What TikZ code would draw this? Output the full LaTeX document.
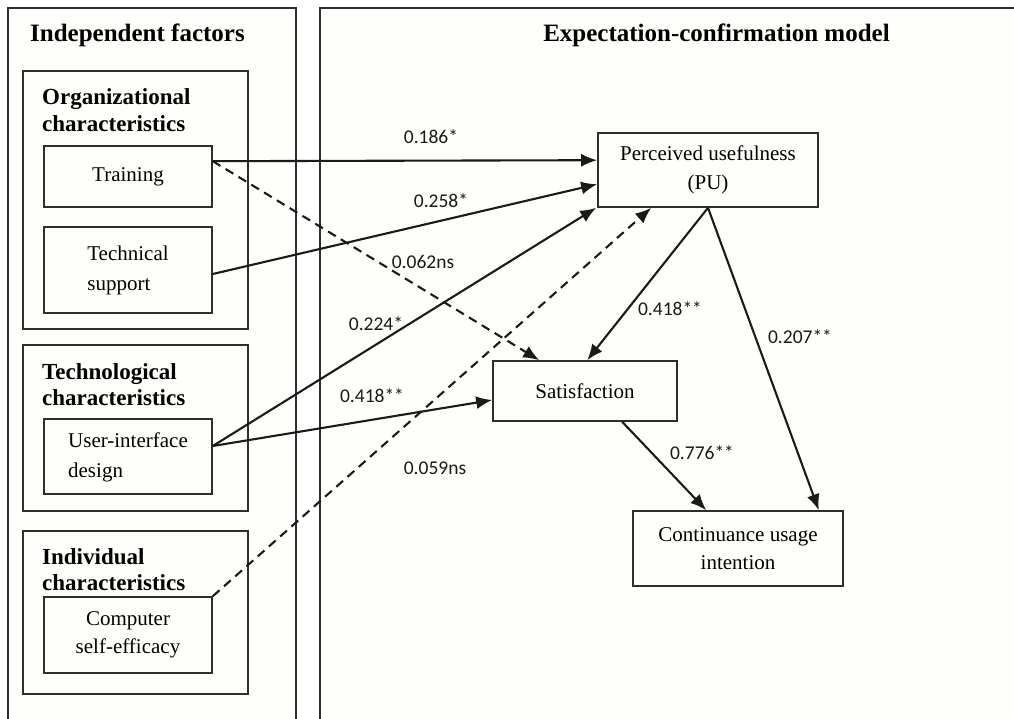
\documentclass[tikz,border=0pt]{standalone}
\usepackage{fontspec}
\setmainfont{Liberation Serif}
\newfontfamily\labfont{Carlito}
\usetikzlibrary{arrows.meta,calc}
\definecolor{ink}{HTML}{1A1A1A}
\definecolor{boxline}{HTML}{2E2E2E}
\definecolor{paper}{HTML}{FEFEFA}
\tikzset{
  panel/.style={draw=boxline, line width=1.6pt},
  group/.style={draw=boxline, line width=1.6pt, inner sep=0pt, anchor=center},
  bx/.style={draw=boxline, line width=1.6pt, inner sep=0pt, anchor=center, align=center,
     font=\fontsize{21}{28.5}\selectfont},
  head/.style={font=\bfseries\fontsize{25}{30}\selectfont, anchor=base, inner sep=0pt},
  subhead/.style={font=\bfseries\fontsize{23}{26.5}\selectfont, anchor=west, align=left, inner sep=0pt},
  lab/.style={font=\labfont\fontsize{19.5}{22}\selectfont, inner sep=0pt, text=ink},
  arr/.style={draw=ink, line width=2.1pt, -{Latex[length=16pt,width=13pt]}},
  darr/.style={arr, dash pattern=on 9pt off 6pt}
}
\begin{document}
\begin{tikzpicture}[x=1pt,y=-1pt]
\useasboundingbox (0,0) rectangle (1014,719);
\fill[white] (0,0) rectangle (1014,719);
\fill[paper] (8,8) rectangle (296,719);
\fill[paper] (320,8) rectangle (1014,719);
% panels
\draw[panel] (8,719) -- (8,8) -- (296,8) -- (296,719);
\draw[panel] (320,719) -- (320,8) -- (1014,8);
\node[head] (hl) at (137.5,42) {Independent factors};
\node[head] (hr) at (716.5,42) {Expectation-confirmation model};
% groups
\node[group, minimum width=225pt, minimum height=258pt] (org) at (135.5,200) {};
\node[group, minimum width=225pt, minimum height=166pt] (tech) at (135.5,428) {};
\node[group, minimum width=225pt, minimum height=163pt] (ind) at (135.5,612.5) {};
\node[subhead] (orgh) at (42,110) {Organizational\\characteristics};
\node[subhead] (techh) at (42,384.5) {Technological\\characteristics};
\node[subhead] (indh) at (42,569.5) {Individual\\characteristics};
% factor boxes
\node[bx, minimum width=168pt, minimum height=61pt] (tr) at (128,176.5) {Training};
\node[bx, minimum width=168pt, minimum height=86pt] (ts) at (128,270) {\begin{tabular}{@{}l@{}}Technical\\[1.5pt]support\end{tabular}};
\node[bx, minimum width=168pt, minimum height=75pt] (ui) at (128,456.5) {\begin{tabular}{@{}l@{}}User-interface\\[1.5pt]design\end{tabular}};
\node[bx, minimum width=168pt, minimum height=76pt] (cse) at (128,635) {Computer\\self-efficacy};
% ECM boxes
\node[bx, minimum width=220pt, minimum height=74pt] (pu) at (708,170) {Perceived usefulness\\(PU)};
\node[bx, minimum width=184pt, minimum height=60pt] (sat) at (585,391) {Satisfaction};
\node[bx, minimum width=210pt, minimum height=75pt] (cont) at (738,548.5) {Continuance usage\\intention};
% connectors
\draw[arr] ($(tr.north east)+(0,16)$) -- ($(pu.north west)+(0,28)$);
\draw[arr] ($(ts.east)+(0,4)$) -- ($(pu.north west)+(0,52)$);
\draw[darr] ($(tr.north east)+(0,16)$) -- ($(sat.north west)+(47,0)$);
\draw[arr] ($(ui.east)+(0,-10.5)$) -- ($(pu.south west)+(-1,0)$);
\draw[arr] ($(ui.east)+(0,-10.5)$) -- ($(sat.west)+(0,9)$);
\draw[darr] (cse.north east) -- ($(pu.south west)+(54,0)$);
\draw[arr] (pu.south) -- ($(sat.north west)+(95,0)$);
\draw[arr] (pu.south) -- ($(cont.north east)+(-25,0)$);
\draw[arr] ($(sat.south west)+(130,0)$) -- ($(cont.north west)+(74,0)$);
% labels
\node[lab] (l1) at (431,137) {0.186*};
\node[lab] (l2) at (441,201) {0.258*};
\node[lab] (l3) at (423,262) {0.062ns};
\node[lab] (l4) at (376,324) {0.224*};
\node[lab] (l5) at (372,396) {0.418**};
\node[lab] (l6) at (435,468) {0.059ns};
\node[lab] (l7) at (670,309) {0.418**};
\node[lab] (l8) at (800,337) {0.207**};
\node[lab] (l9) at (702,453) {0.776**};
\end{tikzpicture}
\end{document}
